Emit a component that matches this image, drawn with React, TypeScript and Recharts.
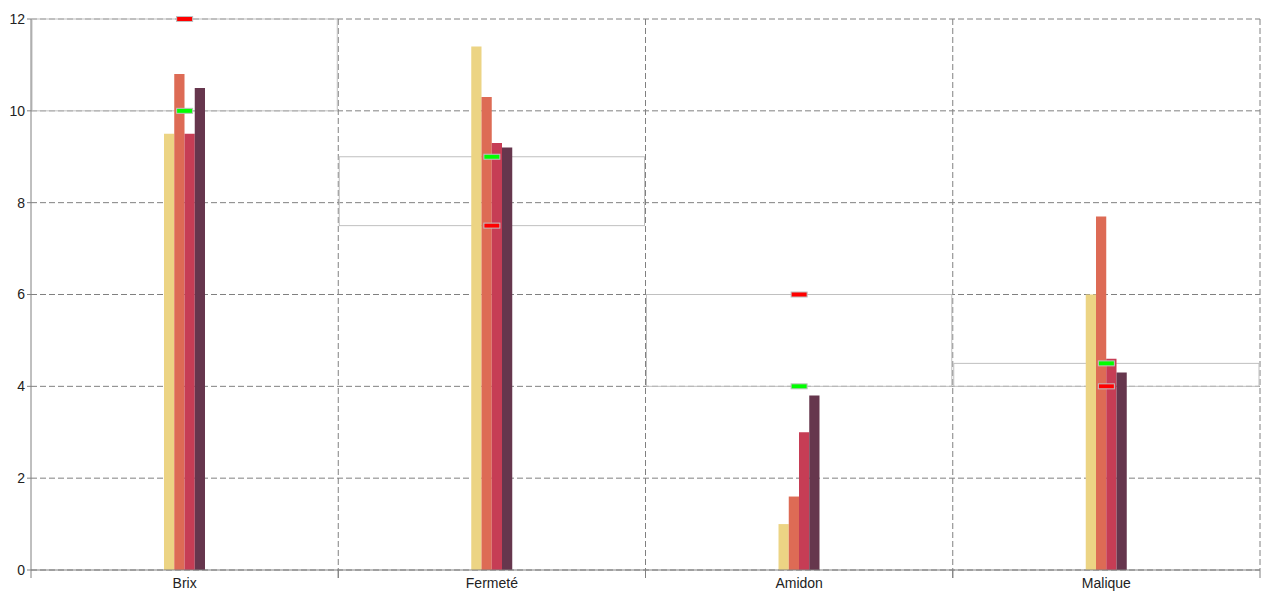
import React from 'react';
import {
  ComposedChart, Bar, Line, XAxis, YAxis, CartesianGrid, ReferenceArea,
} from 'recharts';

const categories = ['Brix', 'Fermeté', 'Amidon', 'Malique'];
const serieA = [9.5, 11.4, 1.0, 6.0];
const serieB = [10.8, 10.3, 1.6, 7.7];
const serieC = [9.5, 9.3, 3.0, 4.6];
const serieD = [10.5, 9.2, 3.8, 4.3];
const greenMarks = [10, 9, 4, 4.5];
const redMarks = [12, 7.5, 6, 4];
const rangeLow = [10, 7.5, 4, 4];
const rangeHigh = [12, 9, 6, 4.5];
const yTicks = [0, 2, 4, 6, 8, 10, 12];

const data = categories.map((name, i) => ({
  name,
  a: serieA[i],
  b: serieB[i],
  c: serieC[i],
  d: serieD[i],
  green: greenMarks[i],
  red: redMarks[i],
}));

const FONT = '"Liberation Sans", Arial, sans-serif';

const makeMarker = (color: string) => (props: any) => {
  const { cx, cy, index } = props;
  if (cx == null || cy == null) return <g key={index} />;
  return (
    <rect key={index} x={cx - 8} y={cy - 2.5} width={16} height={5}
      fill={color} stroke="#c0c0c0" strokeWidth={1} />
  );
};

const RangeShape = (props: any) => {
  const { x, y, width, height } = props;
  if (x == null || y == null) return <g />;
  return (
    <rect x={x + 1} y={y} width={Math.max(0, width - 2)} height={height}
      fill="none" stroke="#c0c0c0" strokeWidth={1} />
  );
};

const XTick = (props: any) => {
  const { x, y, payload } = props;
  const half = payload?.offset ?? 0;
  return (
    <g>
      <line x1={x - half} x2={x - half} y1={y} y2={y + 8} stroke="#808080" />
      <line x1={x + half} x2={x + half} y1={y} y2={y + 8} stroke="#808080" />
      <text x={x} y={y + 18} textAnchor="middle" fontSize={14} fill="#222" fontFamily={FONT}>
        {payload.value}
      </text>
    </g>
  );
};

export default function App() {
  return (
    <div>
      <style>{`body{margin:0}`}</style>
      <ComposedChart
        width={1280}
        height={600}
        data={data}
        margin={{ top: 19, right: 20, bottom: 0, left: 0 }}
        barGap={0}
        style={{ fontFamily: FONT }}
      >
        <CartesianGrid
          stroke="#808080"
          strokeDasharray="6 3"
          verticalCoordinatesGenerator={({ offset }: any) =>
            [1, 2, 3, 4].map((i) => offset.left + (offset.width * i) / 4)
          }
        />
        <XAxis
          dataKey="name"
          type="category"
          height={30}
          stroke="#808080"
          tickLine={false}
          tickSize={0}
          tickMargin={0}
          tick={<XTick />}
          interval={0}
        />
        <YAxis
          width={31}
          domain={[0, 12]}
          ticks={yTicks}
          stroke="#808080"
          tickSize={4}
          tick={{ fill: '#222', fontSize: 14, fontFamily: FONT }}
        />
        {categories.map((c, i) => (
          <ReferenceArea
            key={c}
            x1={c}
            x2={c}
            y1={rangeLow[i]}
            y2={rangeHigh[i]}
            zIndex={150}
            shape={<RangeShape />}
          />
        ))}
        <Bar dataKey="a" fill="#ecd484" barSize={10.25} isAnimationActive={false} />
        <Bar dataKey="b" fill="#dd6b55" barSize={10.25} isAnimationActive={false} />
        <Bar dataKey="c" fill="#c63d55" barSize={10.25} isAnimationActive={false} />
        <Bar dataKey="d" fill="#66364d" barSize={10.25} isAnimationActive={false} />
        <Line dataKey="green" stroke="none" dot={makeMarker('#00ff00')} activeDot={false} isAnimationActive={false} />
        <Line dataKey="red" stroke="none" dot={makeMarker('#ff0000')} activeDot={false} isAnimationActive={false} />
      </ComposedChart>
    </div>
  );
}
